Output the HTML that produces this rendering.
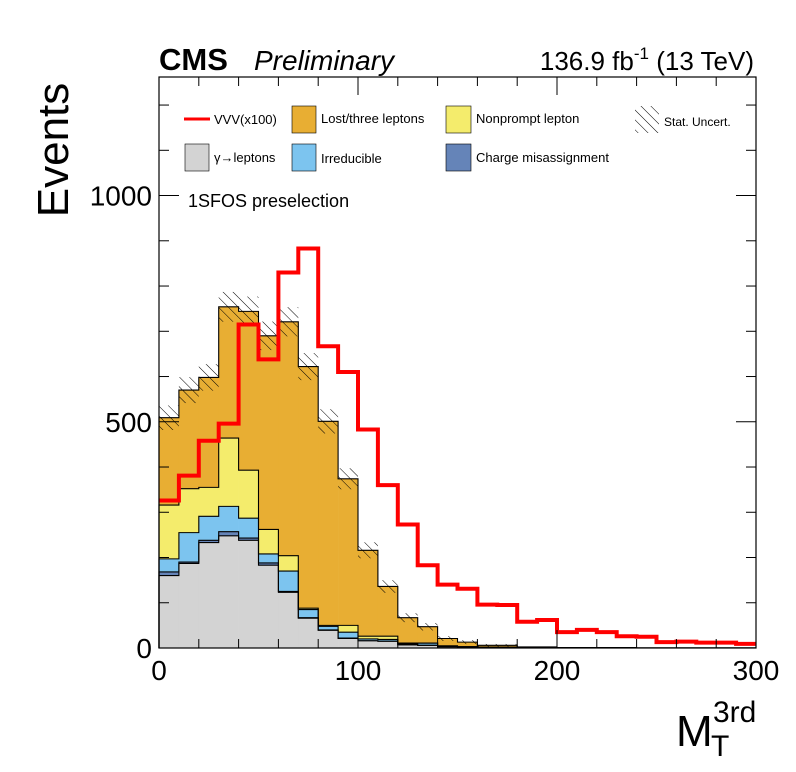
<!DOCTYPE html>
<html><head><meta charset="utf-8"><style>
body{margin:0;background:#fff}
svg{display:block;font-family:"Liberation Sans",sans-serif}
</style></head><body>
<svg id="c" width="796" height="772" viewBox="0 0 796 772">
<defs>
<pattern id="hatch" patternUnits="userSpaceOnUse" width="7" height="7" patternTransform="rotate(-45)">
<line x1="0" y1="0" x2="0" y2="7" stroke="#000" stroke-width="1"/>
</pattern>
</defs>
<g id="bars"></g>
<g id="unc"></g>
<g id="sig"></g>
<g id="axes"></g>
<text x="159" y="70" font-size="31" font-weight="bold">CMS</text>
<text x="254" y="70" font-size="28" font-style="italic">Preliminary</text>
<text x="754" y="70" font-size="26" text-anchor="end">136.9 fb<tspan dy="-11" font-size="17">-1</tspan><tspan dy="11"> (13 TeV)</tspan></text>
<text x="188" y="207" font-size="18">1SFOS preselection</text>
<g font-size="13">
<line x1="184" y1="119" x2="210" y2="119" stroke="#f00" stroke-width="3"/>
<text x="214" y="124">VVV(x100)</text>
<rect x="292" y="106" width="24" height="27" fill="#e8ae33" stroke="#000" stroke-width="0.6"/>
<text x="321" y="123">Lost/three leptons</text>
<rect x="446" y="106" width="25" height="27" fill="#f4ec6c" stroke="#000" stroke-width="0.6"/>
<text x="476" y="123">Nonprompt lepton</text>
<rect x="635" y="106" width="24" height="27" fill="url(#hatch)"/>
<text x="664" y="126" font-size="12">Stat. Uncert.</text>
<rect x="185" y="144" width="24" height="27" fill="#d3d3d3" stroke="#000" stroke-width="0.6"/>
<text x="214" y="162">γ→leptons</text>
<rect x="292" y="144" width="24" height="27" fill="#7cc4ef" stroke="#000" stroke-width="0.6"/>
<text x="321" y="163">Irreducible</text>
<rect x="446" y="144" width="25" height="27" fill="#6584b8" stroke="#000" stroke-width="0.6"/>
<text x="476" y="162">Charge misassignment</text>
</g>
<text transform="translate(68,150) rotate(-90)" font-size="44" text-anchor="middle">Events</text>
<text x="676" y="746" font-size="44">M<tspan font-size="30" x="711" y="756">T</tspan><tspan font-size="30" x="713" y="722">3rd</tspan></text>
</svg>
<script>
const binWidth = 10;
const gammaVals  = [160,187,233,248,238,183,123,66,39,21,16,15,7,6,3,2,1,1,0.5,0.5,0,0,0,0,0,0,0,0,0,0];
const chargeVals = [8,3,5,9,5,5,2,1,1,1,0,0,0,0,0,0,0,0,0,0,0,0,0,0,0,0,0,0,0,0];
const irredVals  = [29,65,53,56,44,20,45,18,8,13,4,4,2,5,1,1,0,0,0,0,0,0,0,0,0,0,0,0,0,0];
const nonpVals   = [119,97,64,151,106,54,34,3,2,15,6,7,2,0,1,0,1,1,0,0,0,0,0,0,0,0,0,0,0,0];
const lostVals   = [193,218,243,290,351,428,517,534,451,324,190,110,56,36,16,10,4,4,2,2,1,1,1,1,0.5,0.5,0.5,0.5,0.5,0.5];
const vvvVals    = [326,381,458,496,715,638,830,883,667,610,483,360,273,183,140,131,96,95,58,62,35,40,35,26,25,13,14,12,12,9];
const yTickLabels = ["0","500","1000"];
const xTickLabels = ["0","100","200","300"];

const X0=159,X1=756,Y0=648,YT=77,XMAX=300,YMAX=1262;
const sx=v=>X0+(v/XMAX)*(X1-X0);
const sy=v=>Y0-(v/YMAX)*(Y0-YT);
const NS="http://www.w3.org/2000/svg";
function mk(tag,attrs,parent){const e=document.createElementNS(NS,tag);for(const k in attrs)e.setAttribute(k,attrs[k]);parent.appendChild(e);return e;}
const bars=document.getElementById('bars');
const layers=[[gammaVals,'#d3d3d3','gamma'],[chargeVals,'#6584b8','charge'],[irredVals,'#7cc4ef','irreducible'],[nonpVals,'#f4ec6c','nonprompt'],[lostVals,'#e8ae33','lost']];
const cum=new Array(gammaVals.length).fill(0);
const outlines=[];
layers.forEach(([vals,col,name])=>{
  vals.forEach((v,i)=>{
    const lo=cum[i],hi=cum[i]+v;cum[i]=hi;
    if(v<=0)return;
    const r=mk('rect',{x:sx(i*binWidth),y:sy(hi),width:sx((i+1)*binWidth)-sx(i*binWidth)+0.3,height:sy(lo)-sy(hi),fill:col},bars);
    
    
  });
  let d='M'+sx(0)+','+sy(0);
  cum.forEach((t,i)=>{d+='L'+sx(i*binWidth)+','+sy(t)+'L'+sx((i+1)*binWidth)+','+sy(t);});
  outlines.push([d,name]);
});
outlines.forEach(([d,name])=>{
  const p=mk('path',{d:d,fill:'none',stroke:'#000','stroke-width':1.1},bars);
  
  
});
// uncertainty band
const unc=document.getElementById('unc');
cum.forEach((t,i)=>{
  const e=Math.sqrt(t)*1.2;
  if(t<3)return;
  const r=mk('rect',{x:sx(i*binWidth),y:sy(t+e),width:sx((i+1)*binWidth)-sx(i*binWidth),height:sy(t-e)-sy(t+e),fill:'url(#hatch)'},unc);
  
  
});
// signal line
let d='';
vvvVals.forEach((v,i)=>{d+=(i===0?'M':'L')+sx(i*binWidth)+','+sy(v)+'L'+sx((i+1)*binWidth)+','+sy(v);});
const p=mk('path',{d:d,fill:'none',stroke:'#f00','stroke-width':4},document.getElementById('sig'));


// axes
const ax=document.getElementById('axes');
const fr=mk('rect',{x:X0,y:YT,width:X1-X0,height:Y0-YT,fill:'none',stroke:'#000','stroke-width':1.2},ax);


for(let v=0;v<=XMAX;v+=20){
  const L=(v%100===0)?18:9;
  mk('line',{x1:sx(v),x2:sx(v),y1:Y0,y2:Y0-L,stroke:'#000'},ax);
  mk('line',{x1:sx(v),x2:sx(v),y1:YT,y2:YT+L,stroke:'#000'},ax);
}
for(let v=0;v<=1200;v+=100){
  const L=(v%500===0)?20:10;
  mk('line',{x1:X0,x2:X0+L,y1:sy(v),y2:sy(v),stroke:'#000'},ax);
  mk('line',{x1:X1,x2:X1-L,y1:sy(v),y2:sy(v),stroke:'#000'},ax);
}
yTickLabels.forEach((s)=>{
  const t=mk('text',{x:152,y:sy(+s)+10,'font-size':28,'text-anchor':'end'},ax);t.textContent=s;
  
  
});
xTickLabels.forEach((s)=>{
  const t=mk('text',{x:sx(+s),y:680,'font-size':28,'text-anchor':'middle'},ax);t.textContent=s;
  
  
});
</script>
</body></html>
